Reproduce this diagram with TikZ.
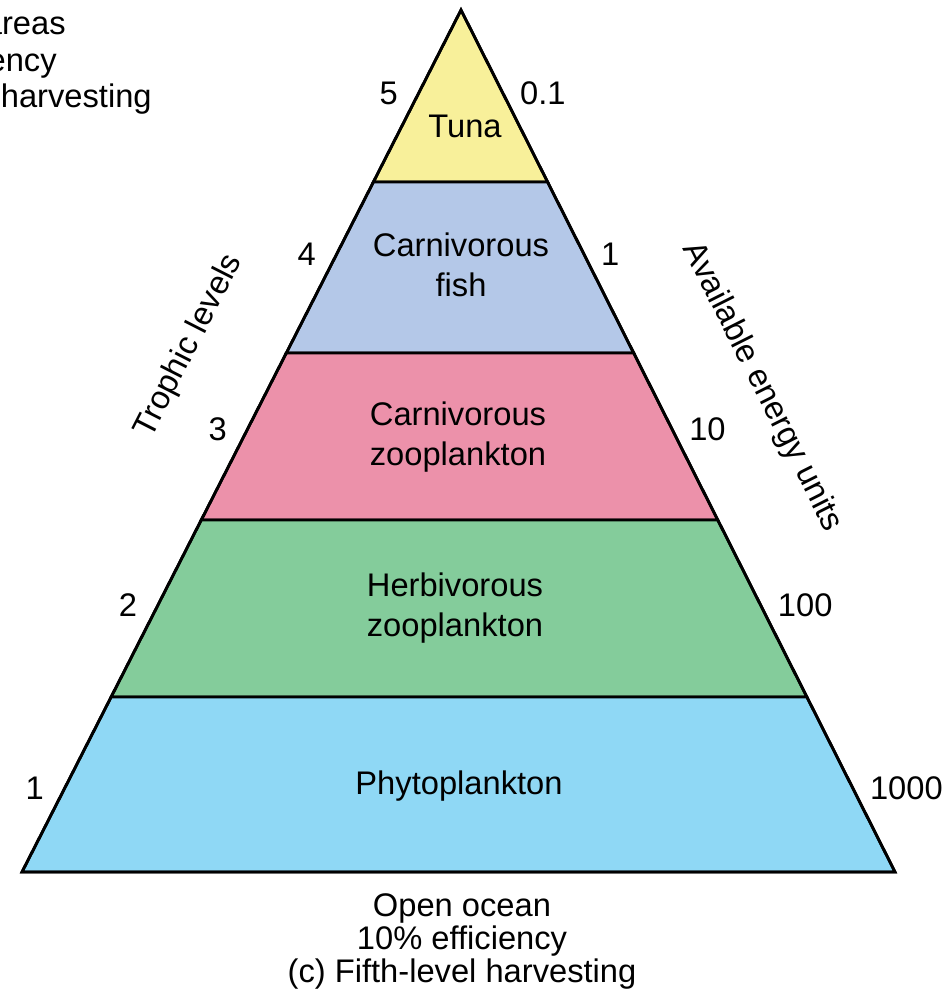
\documentclass[tikz,border=0pt]{standalone}
\usepackage{fontspec}
\setmainfont{Liberation Sans}
\usetikzlibrary{calc}
\definecolor{tunaY}{RGB}{248,240,154}
\definecolor{fishB}{RGB}{180,200,232}
\definecolor{czooP}{RGB}{236,145,170}
\definecolor{hzooG}{RGB}{132,204,155}
\definecolor{phytoB}{RGB}{143,216,245}
\begin{document}
\begin{tikzpicture}[x=0.02cm,y=-0.02cm]
		\tikzset{lvl/.style={font=\fontsize{18.6}{22.8}\selectfont,align=center,inner sep=0pt},
			capt/.style={font=\fontsize{18.6}{18.8}\selectfont,align=center,inner sep=0pt},
			num/.style={font=\fontsize{18.6}{20}\selectfont,inner sep=0pt},
			band/.style={draw=black,line width=1.6pt}}
		\useasboundingbox (0,0) rectangle (949,1000);
		\coordinate (apex) at (461,10);
		\coordinate (bl) at (22,872);
		\coordinate (br) at (895,872);
		% the five bands, top to bottom
		\foreach \a/\b/\c in {0/.1995/tunaY,.1995/.3979/fishB,.3979/.5916/czooP,.5916/.797/hzooG,.797/1/phytoB}
			\filldraw [band,fill=\c] ($(apex)!\a!(bl)$) -- ($(apex)!\b!(bl)$) -- ($(apex)!\b!(br)$) -- ($(apex)!\a!(br)$) -- cycle;
		\draw [band] (apex) -- (bl) -- (br) -- cycle;
		\node [lvl] (tuna) at (465,126) {Tuna};
		\node [lvl] (cfish) at (461,265) {Carnivorous\\fish};
		\node [lvl] (czoo) at (458,437) {Carnivorous\\zooplankton};
		\node [lvl] (hzoo) at (455,608) {Herbivorous\\zooplankton};
		\node [lvl] (phyto) at (459,786) {Phytoplankton};
		% level numbers on the left, energy units on the right
		\foreach \l/\e/\y in {5/0.1/93,4/1/254,3/10/429,2/100/605,1/1000/788} {
			\node [num] (lv\l) at ($($(apex)!{(\y-10)/862}!(bl)$)+(-30,0)$) {\l};
			\node [num,anchor=west] (en\l) at ($($(apex)!{(\y-10)/862}!(br)$)+(17,0)$) {\e};
		}
		\node [lvl,rotate=63] (troph) at (189,346) {Trophic levels};
		\node [lvl,rotate=-63.3] (energy) at (762,387) {Available energy units};
		% tail of the neighbouring caption
		\node [lvl,anchor=base east] (prevA) at (66,35) {areas};
		\node [lvl,anchor=base east] (prevB) at (57,72) {ency};
		\node [lvl,anchor=base east] (prevC) at (152,108) {harvesting};
		\node [capt,anchor=north] (ocean) at (462,893) {Open ocean\\10\% efficiency\\(c) Fifth-level harvesting};
\end{tikzpicture}
\end{document}
